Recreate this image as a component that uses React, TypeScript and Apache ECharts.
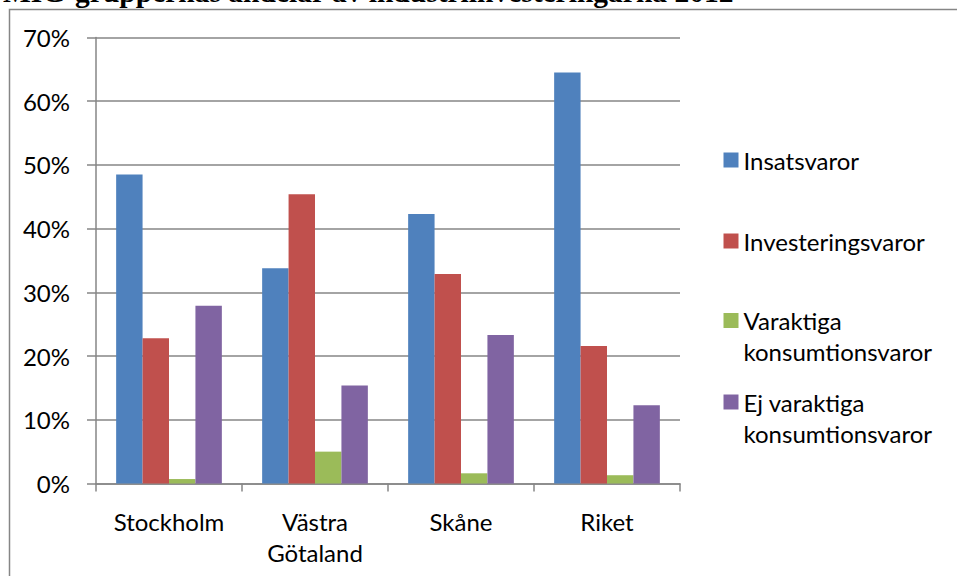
import { useEffect, useRef } from 'react';
import * as echarts from 'echarts';

// Share of industrial investment by MIG group, per region (percent)
const regions = ['Stockholm', 'Västra\nGötaland', 'Skåne', 'Riket'];
const insatsvaror = [48.5, 33.8, 42.3, 64.5];
const investeringsvaror = [22.8, 45.4, 32.9, 21.6];
const varaktigaKonsumtionsvaror = [0.7, 5.0, 1.6, 1.3];
const ejVaraktigaKonsumtionsvaror = [27.9, 15.4, 23.3, 12.3];

const seriesNames = [
  'Insatsvaror',
  'Investeringsvaror',
  'Varaktiga\nkonsumtionsvaror',
  'Ej varaktiga\nkonsumtionsvaror',
];
const seriesData = [
  insatsvaror,
  investeringsvaror,
  varaktigaKonsumtionsvaror,
  ejVaraktigaKonsumtionsvaror,
];
const colors = ['#4F81BD', '#C0504D', '#9BBB59', '#8064A2'];

const yMin = 0;
const yMax = 70;
const yStep = 10;

const title = 'MIG-gruppernas andelar av industriinvesteringarna 2012';

const FONT = 'Lato, Calibri, Carlito, sans-serif';
const FONT_SIZE = 24;
const GRAY = '#868686';

// legend icon tops for each entry
const legendIconTops = [152.5, 233.5, 313, 394.5];
const LINE_H = 31;

export default function App() {
  const ref = useRef<HTMLDivElement>(null);

  useEffect(() => {
    if (!ref.current) return;
    const chart = echarts.init(ref.current, null, { renderer: 'svg' });

    // One legend block per series so each entry sits at its own height;
    // two-line entries get a blank leading line so the swatch lines up with
    // the first line of text.
    const legends = seriesNames.map((name, i) => {
      const multi = name.includes('\n');
      return {
        show: true,
        left: 723.5,
        top: legendIconTops[i] - (multi ? 39 : 8),
        padding: 0,
        orient: 'vertical',
        icon: 'rect',
        itemWidth: 15,
        itemHeight: 15,
        selectedMode: false,
        data: [name],
        formatter: (n: string) => (n.includes('\n') ? '\n' + n : n),
        textStyle: {
          fontFamily: FONT,
          fontSize: FONT_SIZE,
          color: '#000',
          lineHeight: LINE_H,
        },
      };
    });

    chart.setOption({
      animation: false,
      backgroundColor: '#fff',
      color: colors,
      legend: legends,
      grid: {
        left: 96,
        right: 277,
        top: 37.5,
        bottom: 92.5,
        containLabel: false,
      },
      xAxis: {
        type: 'category',
        data: regions,
        boundaryGap: true,
        axisLine: { show: true, lineStyle: { color: GRAY, width: 1.5 } },
        axisTick: {
          show: true,
          length: 8,
          alignWithLabel: false,
          lineStyle: { color: GRAY, width: 1.5 },
        },
        axisLabel: {
          fontFamily: FONT,
          fontSize: FONT_SIZE,
          color: '#000',
          lineHeight: LINE_H,
          margin: 22,
          interval: 0,
        },
      },
      yAxis: {
        type: 'value',
        min: yMin,
        max: yMax,
        interval: yStep,
        axisLine: { show: true, lineStyle: { color: GRAY, width: 1.5 } },
        axisTick: { show: true, length: 9, lineStyle: { color: GRAY, width: 1.5 } },
        splitLine: { show: true, lineStyle: { color: GRAY, width: 1.5 } },
        axisLabel: {
          fontFamily: FONT,
          fontSize: FONT_SIZE,
          color: '#000',
          margin: 26,
          formatter: '{value}%',
        },
      },
      series: seriesData.map((data, i) => ({
        type: 'bar',
        name: seriesNames[i],
        data,
        barGap: '0%',
        barCategoryGap: '27.6%',
        itemStyle: { color: colors[i] },
        emphasis: { disabled: true },
      })),
      graphic: [
        {
          type: 'rect',
          silent: true,
          z: -1,
          shape: { x: 9.5, y: 9.5, width: 1000, height: 1000 },
          style: { fill: 'none', stroke: GRAY, lineWidth: 1.5 },
        },
        {
          type: 'text',
          silent: true,
          x: 3,
          y: -8.3,
          style: {
            text: title,
            fontFamily: '"Liberation Serif", "Times New Roman", serif',
            fontWeight: 'bold',
            fontSize: 29.5,
            fill: '#000',
            verticalAlign: 'middle',
            align: 'left',
          },
        },
      ],
    });

    return () => chart.dispose();
  }, []);

  return (
    <div
      ref={ref}
      style={{ position: 'absolute', left: 0, top: 0, width: 957, height: 576 }}
    />
  );
}
